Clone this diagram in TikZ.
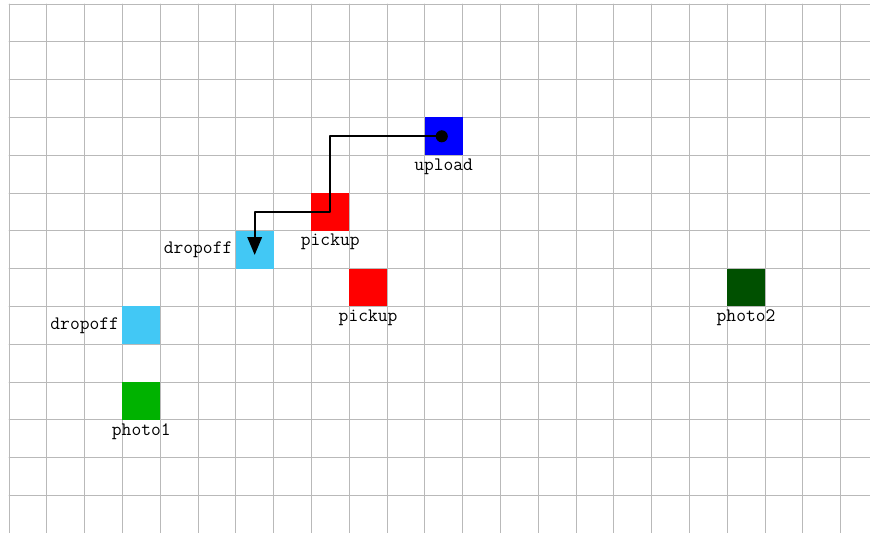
\documentclass[tikz,border=0pt]{standalone}
\usetikzlibrary{arrows.meta}
\definecolor{dropcyan}{RGB}{66,200,245}
\definecolor{photogreen}{RGB}{0,178,0}
\definecolor{photodark}{RGB}{0,80,0}
\begin{document}
\begin{tikzpicture}[
		>={Triangle[length=4.7mm,width=3.8mm]},
		line cap=round,
		line join=round,
		cell/.style={inner sep=0pt,minimum size=1cm,draw=none},
		tag/.style={font=\fontsize{14.3}{16}\selectfont\ttfamily,inner sep=2.2pt},
		route/.style={->,line width=1.4pt}
		]
		\useasboundingbox (-0.238,0.106) rectangle (22.78,-13.995);
		\draw[gray!55,line width=0.6pt] (0,-14) grid (23,0);
		\node[cell,fill=blue,label={[tag]below:upload}] (upload) at (11.5,-3.5) {};
		\node[cell,fill=red,label={[tag]below:pickup}] (pickupA) at (8.5,-5.5) {};
		\node[cell,fill=dropcyan,label={[tag]left:dropoff}] (dropoffA) at (6.5,-6.5) {};
		\node[cell,fill=red,label={[tag]below:pickup}] (pickupB) at (9.5,-7.5) {};
		\node[cell,fill=dropcyan,label={[tag]left:dropoff}] (dropoffB) at (3.5,-8.5) {};
		\node[cell,fill=photogreen,label={[tag]below:photo1}] (photoA) at (3.5,-10.5) {};
		\node[cell,fill=photodark,label={[tag]below:photo2}] (photoB) at (19.5,-7.5) {};
		\fill ([xshift=-0.05cm]upload.center) circle (0.16);
		\draw[route] ([xshift=-0.05cm]upload.center) -| (pickupA.center) -| ([yshift=-0.14cm]dropoffA.center);
		\end{tikzpicture}
\end{document}
